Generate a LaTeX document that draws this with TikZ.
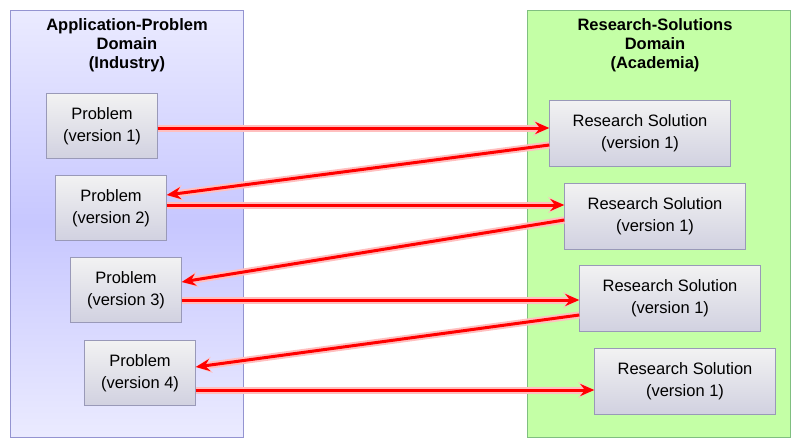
\documentclass[tikz,border=0pt]{standalone}
\usepackage{fontspec}
\setmainfont{Liberation Sans}
\usetikzlibrary{arrows.meta,positioning}
\tikzset{
	problem/.style={
		rectangle,
		draw=blue!30!black!40,
		top color=gray!10,
		bottom color=blue!20!gray!30,
		minimum width=111pt,
		minimum height=65pt,
		align=center,
		font=\fontsize{16.5}{22}\selectfont
	},
	solution/.style={
		problem,
		minimum width=181pt,
		minimum height=66pt
	},
	title/.style={
		align=center,
		font=\bfseries\fontsize{16.5}{19}\selectfont
	},
	link/.style={
		-{Stealth[length=14pt,width=12pt]},
		line width=3pt,
		draw=red,
		preaction={draw=red!25, line width=7pt, -{Stealth[length=16pt,width=16pt]}}
	}
}
\begin{document}
\begin{tikzpicture}[x=1pt,y=-1pt]
\useasboundingbox (0,0) rectangle (800,447);
% domains
\shade [top color=blue!8, bottom color=blue!8, middle color=blue!22, draw=blue!40!gray!60] (10,10) rectangle (243,437);
\fill [green!55!lime!35, draw=green!50!black!50] (527,10) rectangle (790,437);
\node [title] (Industry) at (127,45) {Application-Problem\\Domain\\(Industry)};
\node [title] (Academia) at (655,45) {Research-Solutions\\Domain\\(Academia)};
% problems
\node [problem] (P1) at (102,126) {Problem\\(version 1)};
\node [problem] (P2) at (111,208) {Problem\\(version 2)};
\node [problem] (P3) at (126,290) {Problem\\(version 3)};
\node [problem] (P4) at (140,373) {Problem\\(version 4)};
% solutions
\node [solution] (R1) at (640,133) {Research Solution\\(version 1)};
\node [solution] (R2) at (655,216) {Research Solution\\(version 1)};
\node [solution] (R3) at (670,298) {Research Solution\\(version 1)};
\node [solution] (R4) at (685,381) {Research Solution\\(version 1)};
% iterations
\draw [link] ([yshift=-2pt]P1.east) -- ([yshift=5pt]R1.west);
\draw [link] ([yshift=-12pt]R1.west) -- ([yshift=13pt]P2.east);
\draw [link] ([yshift=3pt]P2.east) -- ([yshift=11pt]R2.west);
\draw [link] ([yshift=-4pt]R2.west) -- ([yshift=8pt]P3.east);
\draw [link] ([yshift=-10pt]P3.east) -- ([yshift=-2pt]R3.west);
\draw [link] ([yshift=-17pt]R3.west) -- ([yshift=6pt]P4.east);
\draw [link] ([yshift=-17pt]P4.east) -- ([yshift=-9pt]R4.west);
\end{tikzpicture}
\end{document}
